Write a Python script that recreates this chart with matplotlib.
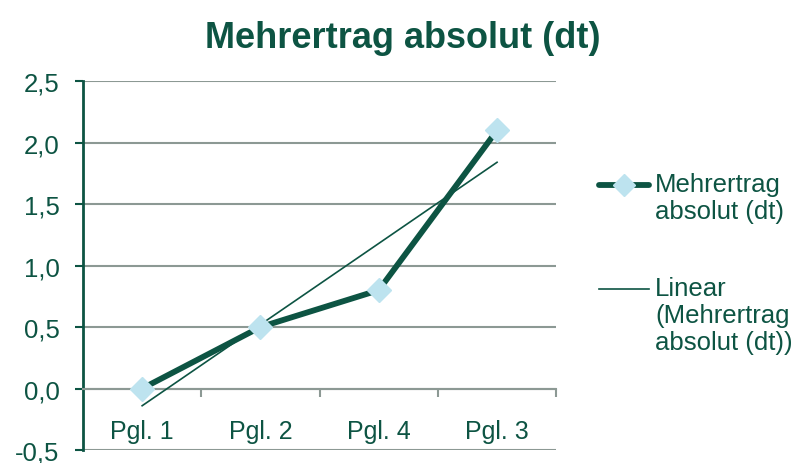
import numpy as np
import matplotlib.pyplot as plt
from matplotlib.lines import Line2D
from matplotlib.ticker import FuncFormatter

# data
categories = ["Pgl. 1", "Pgl. 2", "Pgl. 4", "Pgl. 3"]
values = [0.0, 0.5, 0.8, 2.1]
series_label = "Mehrertrag\nabsolut (dt)"
trend_label = "Linear\n(Mehrertrag\nabsolut (dt))"
yticks = [-0.5, 0.0, 0.5, 1.0, 1.5, 2.0, 2.5]

green = "#0d5443"
grid_gray = "#8c9994"
marker_blue = "#bde3ef"

plt.rcParams['font.family'] = ['Liberation Sans', 'DejaVu Sans']

fig = plt.figure(figsize=(7.98, 4.64), dpi=100)
ax = fig.add_axes([0.104, 0.028, 0.593, 0.795])

x = np.arange(len(categories))

# linear trend line (least squares over category index)
k, d = np.polyfit(x, values, 1)
ax.plot(x, k * x + d, color=green, lw=1.2, zorder=3)

ax.plot(x, values, color=green, lw=4.2, marker="D", markersize=12,
        markerfacecolor=marker_blue, markeredgecolor=marker_blue,
        solid_capstyle="round", zorder=4)

ax.set_xlim(-0.5, len(categories) - 0.5)
ax.set_ylim(-0.5, 2.5)
ax.set_yticks(yticks)
ax.yaxis.set_major_formatter(FuncFormatter(lambda v, p: f"{v:.1f}".replace(".", ",")))
ax.tick_params(axis="y", colors=green, labelsize=18.5, length=6, width=1.5,
               direction="out", pad=11)
ax.yaxis.grid(True, color=grid_gray, lw=1.5)
ax.set_axisbelow(True)

# category axis at zero
ax.spines["bottom"].set_position(("data", 0))
ax.spines["bottom"].set_color(grid_gray)
ax.spines["bottom"].set_linewidth(1.5)
ax.spines["top"].set_visible(False)
ax.spines["right"].set_visible(False)
ax.spines["left"].set_color(green)
ax.spines["left"].set_linewidth(2)
ax.set_xticks(x)
ax.set_xticklabels(categories)
ax.set_xticks(np.arange(len(categories)) + 0.5, minor=True)
ax.tick_params(axis="x", which="major", length=0, pad=22, labelsize=18, labelcolor=green)
ax.tick_params(axis="x", which="minor", length=6, width=1.5, color=grid_gray, direction="out")

fig.text(0.505, 0.918, "Mehrertrag absolut (dt)", ha="center", va="center",
         fontsize=26, fontweight="bold", color=green)

# legend, drawn by hand so the key sits on the first text line
W, H = 798, 464
lx0, lx1, tx = 599 / W, 649 / W, 655 / W
for y_px, label, big in [(186, series_label, True), (290, trend_label, False)]:
    yy = 1 - y_px / H
    if big:
        fig.add_artist(Line2D([lx0, lx1], [yy, yy], transform=fig.transFigure,
                              color=green, lw=4.2, solid_capstyle="round"))
        fig.add_artist(Line2D([(lx0 + lx1) / 2], [yy], transform=fig.transFigure,
                              marker="D", markersize=11, color=marker_blue, lw=0))
    else:
        fig.add_artist(Line2D([lx0, lx1], [yy, yy], transform=fig.transFigure,
                              color=green, lw=1.2))
    fig.text(tx, yy + 13 / H, label, ha="left", va="top", fontsize=18.5,
             color=green, linespacing=1.15)

plt.savefig("out.png", dpi=100)
